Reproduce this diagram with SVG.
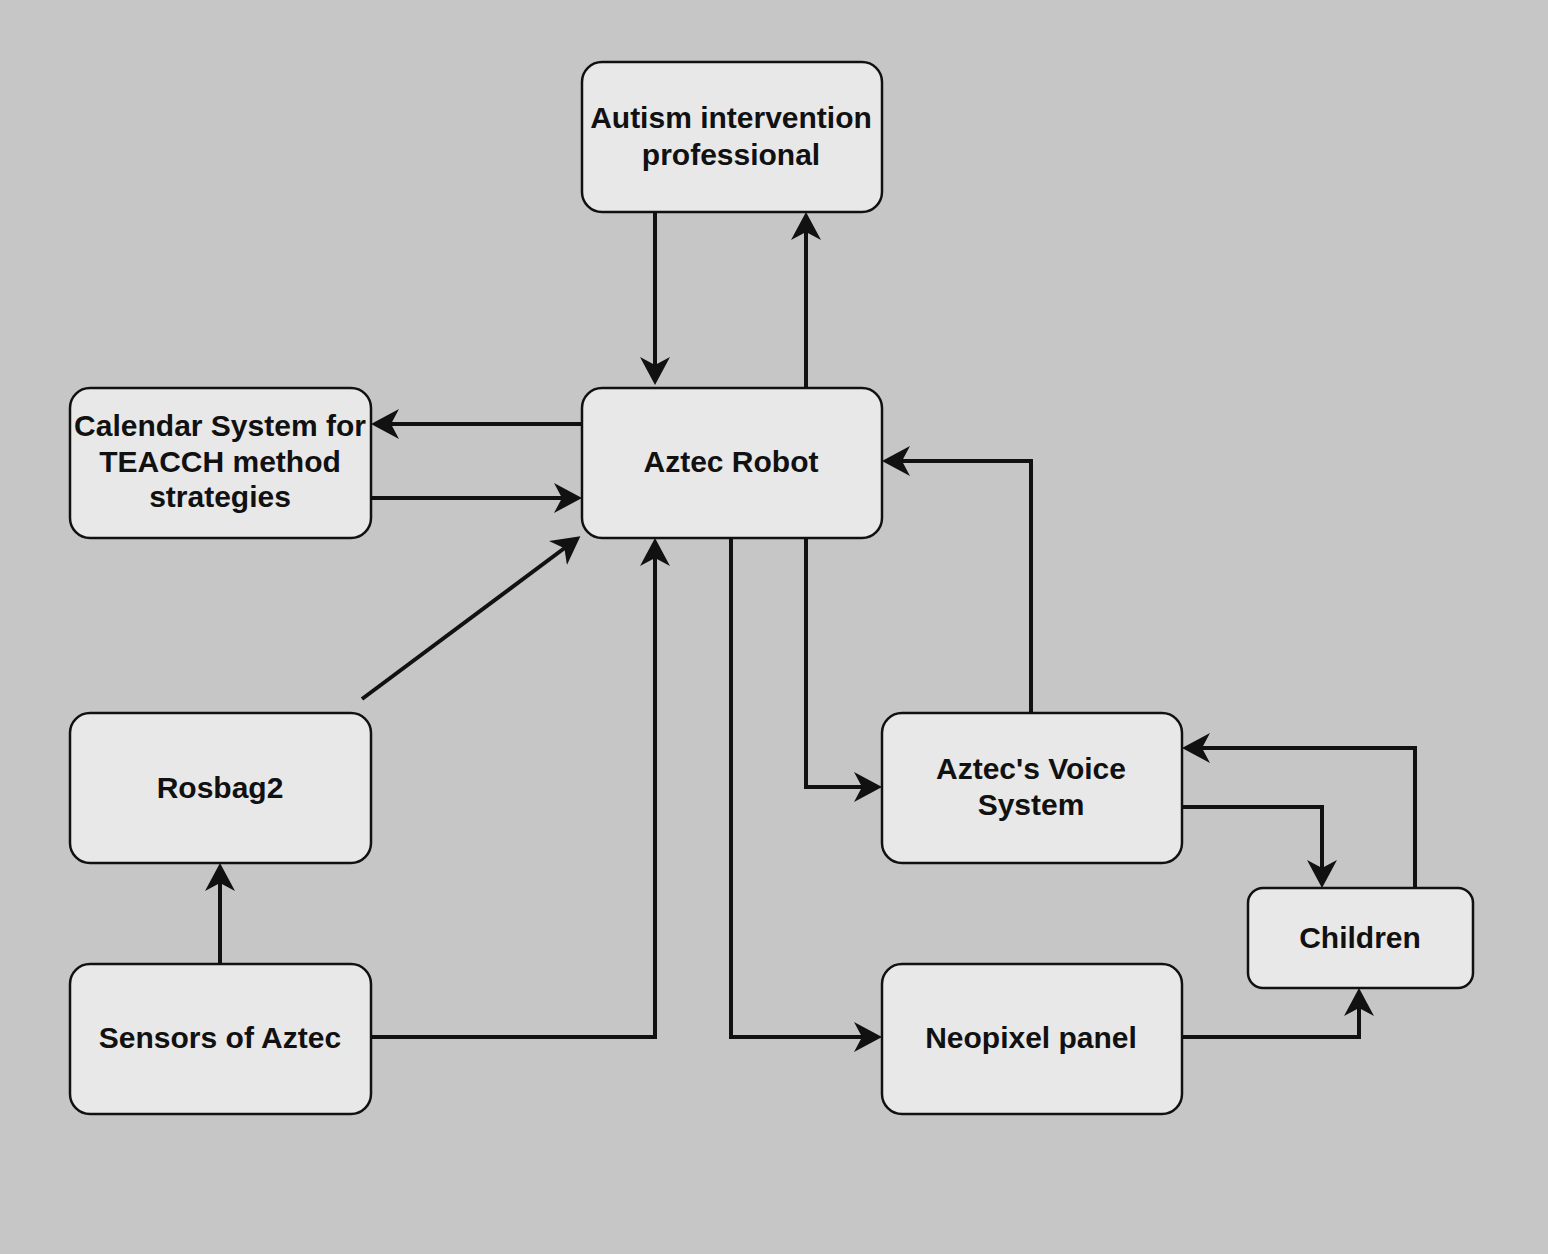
<svg xmlns="http://www.w3.org/2000/svg" width="1548" height="1254" viewBox="0 0 1548 1254">
<style>
.box{fill:#e8e8e8;stroke:#111;stroke-width:2.5}
.lbl{font-family:"Liberation Sans",Arial,sans-serif;font-weight:bold;font-size:30px;fill:#111;text-anchor:middle}
.edge{fill:none;stroke:#111;stroke-width:4;marker-end:url(#arr)}
</style>
<defs>
<marker id="arr" markerUnits="userSpaceOnUse" markerWidth="30" markerHeight="32" refX="20" refY="16" orient="auto" viewBox="0 0 30 32">
<path d="M0,1 L28,16 L0,31 L8,16 Z" fill="#111"/>
</marker>
</defs>
<rect width="1548" height="1254" fill="#c6c6c6"/>
<g id="connectors">
<path class="edge" d="M655,212 V377"/>
<path class="edge" d="M806,388 V220"/>
<path class="edge" d="M582,424 H379"/>
<path class="edge" d="M371,498 H574"/>
<path class="edge" d="M362,699 L574,541"/>
<path class="edge" d="M371,1037 H655 V546"/>
<path class="edge" d="M731,538 V1037 H874"/>
<path class="edge" d="M806,538 V787 H874"/>
<path class="edge" d="M1031,713 V461 H890"/>
<path class="edge" d="M1182,807 H1322 V880"/>
<path class="edge" d="M1415,888 V748 H1190"/>
<path class="edge" d="M1182,1037 H1359 V996"/>
<path class="edge" d="M220,964 V871"/>
</g>
<g id="autism"><rect class="box" x="582" y="62" width="300" height="150" rx="20"/><text class="lbl" x="731" y="128">Autism intervention</text><text class="lbl" x="731" y="165">professional</text></g>
<g id="calendar"><rect class="box" x="70" y="388" width="301" height="150" rx="20"/><text class="lbl" x="220" y="436">Calendar System for</text><text class="lbl" x="220" y="472">TEACCH method</text><text class="lbl" x="220" y="507">strategies</text></g>
<g id="robot"><rect class="box" x="582" y="388" width="300" height="150" rx="20"/><text class="lbl" x="731" y="472">Aztec Robot</text></g>
<g id="rosbag"><rect class="box" x="70" y="713" width="301" height="150" rx="20"/><text class="lbl" x="220" y="798">Rosbag2</text></g>
<g id="sensors"><rect class="box" x="70" y="964" width="301" height="150" rx="20"/><text class="lbl" x="220" y="1048">Sensors of Aztec</text></g>
<g id="voice"><rect class="box" x="882" y="713" width="300" height="150" rx="20"/><text class="lbl" x="1031" y="779">Aztec's Voice</text><text class="lbl" x="1031" y="815">System</text></g>
<g id="neopixel"><rect class="box" x="882" y="964" width="300" height="150" rx="20"/><text class="lbl" x="1031" y="1048">Neopixel panel</text></g>
<g id="children"><rect class="box" x="1248" y="888" width="225" height="100" rx="15"/><text class="lbl" x="1360" y="948">Children</text></g>
</svg>
